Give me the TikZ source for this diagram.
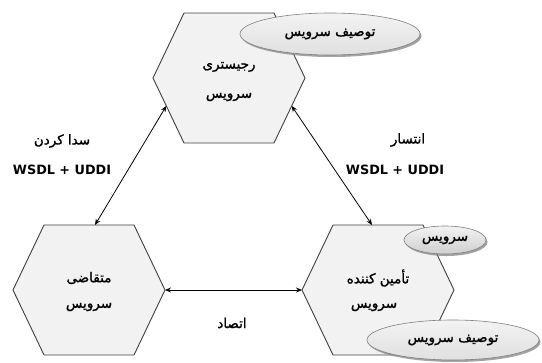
\documentclass[tikz,border=0pt]{standalone}
\usepackage{fontspec}
\setmainfont{DejaVu Sans}
\newfontfamily\fa[Script=Arabic, FakeBold=1.3]{DejaVu Sans}
\usetikzlibrary{shapes.geometric,arrows.meta,shadows,calc}
\TeXXeTstate=1
\definecolor{hexfill}{HTML}{F2F2F2}
\definecolor{hexline}{HTML}{404040}
\definecolor{ellfill}{HTML}{E0E0E0}
\definecolor{ellfilldark}{HTML}{CFCFCF}
\definecolor{ellline}{HTML}{7F7F7F}
\tikzset{
  hexbox/.style={draw=hexline, fill=hexfill, line width=0.9pt, line join=round},
  ell/.style={ellipse, draw=ellline, line width=0.6pt, top color=white!60!ellfill, bottom color=ellfill, inner sep=0pt,
     drop shadow={shadow xshift=1.5pt, shadow yshift=-2pt, fill=black!45, opacity=0.8},
     font=\fa\fontsize{13.5}{15}\selectfont},
  txt/.style={inner sep=0pt, font=\fa\fontsize{13.5}{15}\selectfont},
  lat/.style={inner sep=0pt, font=\bfseries\fontsize{12.8}{14}\selectfont},
  link/.style={draw=black, line width=0.8pt, {Stealth[length=6pt,width=5pt]}-{Stealth[length=6pt,width=5pt]}},
}
\newcommand\hexagonat[3]{%
  \begin{scope}[shift={(#2,#3)}]
    \draw[hexbox] (-76,0) -- (-45,-65) -- (45,-65) -- (76,0) -- (45,65) -- (-45,65) -- cycle;
    \coordinate (#1-l) at (-76,0);
    \coordinate (#1-r) at (76,0);
    \coordinate (#1-tl) at (-45,-65);
    \coordinate (#1-tr) at (45,-65);
    \coordinate (#1-bl) at (-45,65);
    \coordinate (#1-br) at (45,65);
  \end{scope}}
\begin{document}
\begin{tikzpicture}[x=1pt,y=-1pt]
\useasboundingbox (0,0) rectangle (542,363);
\fill[white] (0,0) rectangle (542,363);
% hexagons
\hexagonat{T}{229}{78}
\hexagonat{L}{89}{290}
\hexagonat{R}{378}{290}
% hexagon texts
\node[txt] (t1) at (229,67) {\beginR رجیستری\endR};
\node[txt] (t2) at (229,97) {\beginR سرویس\endR};
\node[txt] (l1) at (89,278) {\beginR متقاضی\endR};
\node[txt] (l2) at (89,307) {\beginR سرویس\endR};
\node[txt] (r1) at (378,278) {\beginR تأمین کننده\endR};
\node[txt] (r2) at (374,307) {\beginR سرویس\endR};
% connector end points
\coordinate (a1) at ($(T-l)!0.43!(T-bl)$);
\coordinate (a2) at (95,225);
\coordinate (b1) at ($(T-r)!0.43!(T-br)$);
\coordinate (b2) at (372,225);
\draw[link] (a1) -- (a2);
\draw[link] (b1) -- (b2);
\draw[link] (L-r) -- (R-l);
% labels
\node[txt] (c1) at (62,141) {\beginR سدا کردن\endR};
\node[lat] (c2) at (62,170) {WSDL + UDDI};
\node[txt] (p1) at (408,140) {\beginR انتسار\endR};
\node[lat] (p2) at (395,170) {WSDL + UDDI};
\node[txt] (bd) at (232,323) {\beginR اتصاد\endR};
% ellipses
\node[ell, minimum width=180pt, minimum height=42pt] (e1) at (330,34) {\beginR توصیف سرویس\endR};
\node[ell, minimum width=82pt, minimum height=28pt, bottom color=ellfilldark] (e2) at (445,240) {\beginR سرویس\endR};
\node[ell, minimum width=172pt, minimum height=40pt] (e3) at (453,340) {\beginR توصیف سرویس\endR};
\end{tikzpicture}
\end{document}
